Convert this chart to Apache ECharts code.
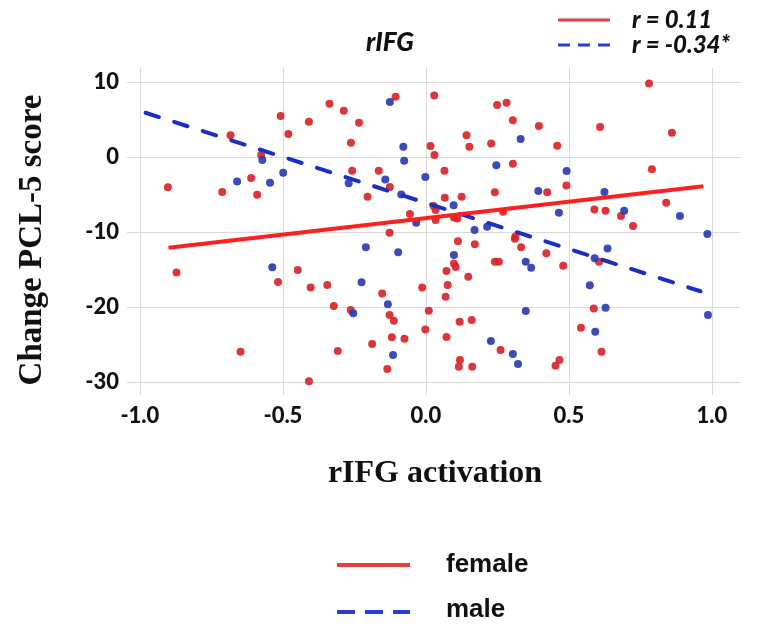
<!DOCTYPE html>
<html>
<head>
<meta charset="utf-8">
<script src="https://cdn.jsdelivr.net/npm/echarts@6/dist/echarts.min.js"></script>
<style>html,body{margin:0;padding:0;background:#fff;}#c{width:760px;height:629px;}</style>
</head>
<body>
<div id="c"></div>
<script>
// ---- data ----
const xTicks = [-1.0, -0.5, 0.0, 0.5, 1.0];
const yTicks = [-30, -20, -10, 0, 10];

const femalePoints = [
  [-0.508, 5.47], [-0.409, 4.7], [-0.481, 3.07], [-0.683, 2.9], [-0.576, 0.27],
  [-0.611, -2.8], [-0.902, -4.04], [-0.712, -4.67], [-0.590, -5.02], [-0.106, 8.04],
  [0.029, 8.22], [-0.337, 7.11], [-0.287, 6.18], [-0.234, 4.58], [0.249, 6.93],
  [0.282, 7.24], [-0.262, 1.91], [0.016, 1.47], [0.142, 2.89], [0.152, 1.38],
  [0.228, 1.82], [0.030, 0.27], [-0.258, -1.82], [-0.165, -1.82], [0.065, -1.82],
  [-0.126, -4.0], [-0.204, -5.29], [0.066, -5.42], [0.125, -5.29], [0.027, -6.53],
  [-0.056, -7.6], [0.034, -8.4], [0.098, -8.05], [0.11, -8.2], [0.034, -7.07],
  [0.27, -7.3], [0.241, -4.71], [0.780, 9.82], [0.304, 4.89], [0.395, 4.13],
  [0.609, 4.0], [0.860, 3.24], [0.459, 1.51], [0.304, -0.89], [0.790, -1.64],
  [0.491, -3.78], [0.424, -4.71], [0.840, -6.09], [0.589, -6.98], [0.628, -7.16],
  [0.682, -7.87], [0.724, -9.2], [0.311, -10.9], [0.313, -10.6], [0.333, -12.04],
  [0.241, -13.96], [0.255, -13.96], [0.421, -12.84], [0.480, -14.49], [0.605, -13.96],
  [0.587, -20.2], [0.542, -22.76], [0.614, -25.96], [0.261, -25.73], [0.467, -27.07],
  [0.453, -27.82], [-0.127, -10.09], [0.112, -11.24], [0.171, -11.64], [0.098, -14.2],
  [0.104, -14.65], [0.072, -15.2], [0.148, -15.96], [-0.403, -17.38], [-0.345, -17.07],
  [-0.153, -18.18], [-0.013, -17.38], [0.076, -17.07], [0.069, -18.62], [-0.322, -19.87],
  [-0.263, -20.4], [0.010, -20.49], [-0.127, -21.07], [-0.112, -21.82], [0.118, -21.96],
  [0.160, -21.73], [-0.002, -22.98], [-0.119, -24.04], [-0.075, -24.22], [0.072, -24.0],
  [-0.188, -24.93], [-0.308, -25.87], [-0.135, -28.27], [0.119, -27.07], [0.115, -27.96],
  [0.162, -27.96], [-0.409, -29.9], [-0.872, -15.38], [-0.448, -15.07], [-0.517, -16.67],
  [-0.648, -25.96]
];

const malePoints = [
  [-0.572, -0.4], [-0.499, -2.09], [-0.660, -3.25], [-0.545, -3.42], [-0.126, 7.33],
  [-0.079, 1.38], [-0.076, -0.49], [0.246, -1.1], [-0.002, -2.67], [-0.142, -2.98],
  [-0.270, -3.5], [-0.086, -5.0], [0.097, -6.44], [-0.034, -8.76], [0.214, -9.29],
  [0.170, -9.73], [0.331, 2.4], [0.492, -1.87], [0.393, -4.53], [0.624, -4.67],
  [0.465, -7.42], [0.693, -7.16], [0.888, -7.87], [0.984, -10.27], [0.349, -13.96],
  [0.368, -14.76], [0.635, -12.18], [0.59, -13.5], [0.573, -17.1], [0.628, -20.1],
  [0.349, -20.53], [0.986, -21.07], [0.592, -23.29], [0.304, -26.27], [0.322, -27.6],
  [-0.210, -12.04], [-0.097, -12.71], [0.098, -13.07], [-0.225, -16.7], [-0.133, -19.64],
  [-0.254, -20.84], [-0.115, -26.4], [0.227, -24.53], [-0.537, -14.71]
];

const femaleFit = [[-0.90, -12.1], [0.97, -3.9]];
const maleFit = [[-0.98, 5.9], [0.96, -17.9]];

const titleText = 'rIFG';
const xName = 'rIFG activation';
const yName = 'Change PCL-5 score';
const femaleR = 'r = 0.11';
const maleR = 'r = -0.34*';
const legendNames = ['female', 'male'];

// ---- chart ----
const RED = '#ff1f1f';
const BLUE = '#1b2fc4';
const tickFont = { fontFamily: 'Lato', fontWeight: 900, fontSize: 22, color: '#111' };

const chart = echarts.init(document.getElementById('c'), null, { renderer: 'canvas' });
chart.setOption({
  animation: false,
  backgroundColor: '#fff',
  grid: { left: 127, right: 20, top: 68, bottom: 234, containLabel: false },
  xAxis: {
    type: 'value', min: -1.045, max: 1.098,
    axisLine: { show: false },
    axisTick: { show: false, customValues: xTicks },
    axisLabel: Object.assign({ customValues: xTicks, margin: 10,
      formatter: v => v.toFixed(1) }, tickFont),
    splitLine: { show: true, lineStyle: { color: '#d9d9d9', width: 1 } }
  },
  yAxis: {
    type: 'value', min: -31.73, max: 11.87,
    axisLine: { show: false },
    axisTick: { show: false, customValues: yTicks },
    axisLabel: Object.assign({ customValues: yTicks, margin: 8,
      formatter: v => String(Math.round(v)) }, tickFont),
    splitLine: { show: true, lineStyle: { color: '#d9d9d9', width: 1 } }
  },
  series: [
    { type: 'scatter', data: femalePoints, symbolSize: 8,
      itemStyle: { color: '#d8262a', opacity: 0.92 } },
    { type: 'scatter', data: malePoints, symbolSize: 8,
      itemStyle: { color: '#2a3db3', opacity: 0.92 } },
    { type: 'line', data: maleFit, symbol: 'none',
      lineStyle: { color: BLUE, width: 4, type: [14, 16], cap: 'round' } },
    { type: 'line', data: femaleFit, symbol: 'none',
      lineStyle: { color: RED, width: 4 } }
  ],
  graphic: [
    { type: 'text', x: 390, y: 43, style: { text: titleText, fill: '#111',
      font: 'italic 900 26px Lato', textAlign: 'center', textVerticalAlign: 'middle' } },
    { type: 'line', shape: { x1: 558, y1: 20, x2: 610, y2: 20 },
      style: { stroke: '#f03a3a', lineWidth: 3 } },
    { type: 'text', x: 632, y: 20, style: { text: femaleR, fill: '#111',
      font: 'italic 900 24px Lato', textAlign: 'left', textVerticalAlign: 'middle' } },
    { type: 'line', shape: { x1: 558, y1: 45, x2: 610, y2: 45 },
      style: { stroke: '#2a3fd0', lineWidth: 3, lineDash: [12, 8] } },
    { type: 'text', x: 632, y: 45, style: { text: maleR, fill: '#111',
      font: 'italic 900 24px Lato', textAlign: 'left', textVerticalAlign: 'middle' } },
    { type: 'text', x: 435, y: 474, style: { text: xName, fill: '#111',
      font: 'bold 32px "Liberation Serif"', textAlign: 'center', textVerticalAlign: 'middle' } },
    { type: 'text', x: 32, y: 240, rotation: Math.PI / 2, style: { text: yName, fill: '#111',
      font: 'bold 33px "Liberation Serif"', textAlign: 'center', textVerticalAlign: 'middle' } },
    { type: 'line', shape: { x1: 337, y1: 565, x2: 410, y2: 565 },
      style: { stroke: '#f03a3a', lineWidth: 4 } },
    { type: 'text', x: 446, y: 565, style: { text: legendNames[0], fill: '#111',
      font: 'bold 26px "Liberation Sans"', textAlign: 'left', textVerticalAlign: 'middle' } },
    { type: 'line', shape: { x1: 337, y1: 612, x2: 410, y2: 612 },
      style: { stroke: '#2a3fd0', lineWidth: 4, lineDash: [18, 10] } },
    { type: 'text', x: 446, y: 610, style: { text: legendNames[1], fill: '#111',
      font: 'bold 26px "Liberation Sans"', textAlign: 'left', textVerticalAlign: 'middle' } }
  ]
});
</script>
</body>
</html>
